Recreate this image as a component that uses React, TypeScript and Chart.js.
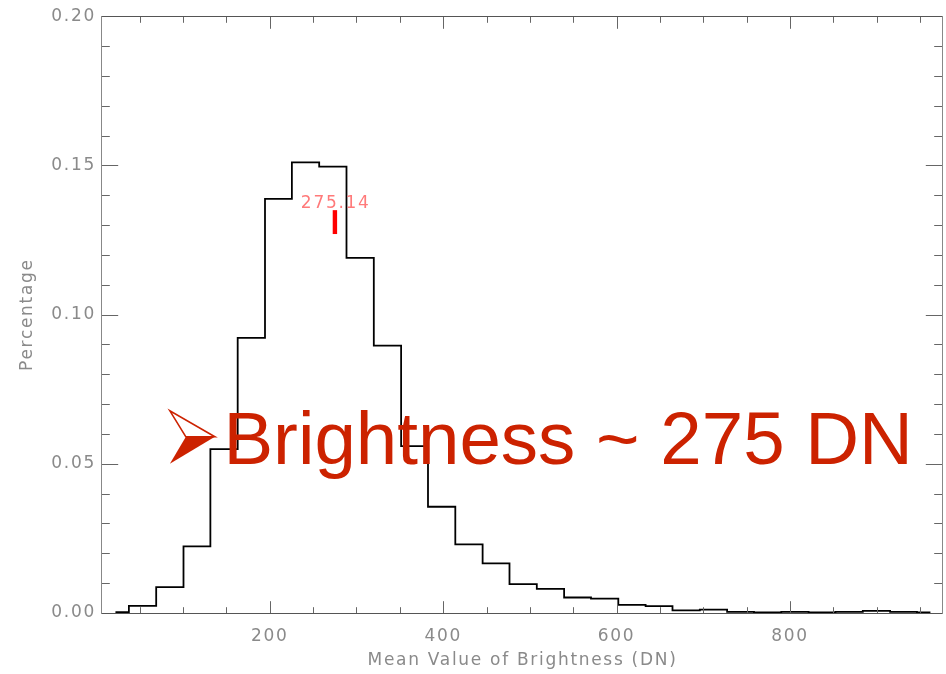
import React, { useEffect, useRef } from 'react';
import { Chart, registerables } from 'chart.js';

Chart.register(...registerables);

// ---- data ----
const binCenters: number[] = [22, 53, 85, 116, 147, 179, 210, 241, 273, 304, 336, 367, 398, 430, 461, 492, 524, 555, 586, 618, 649, 680, 712, 743, 774, 806, 837, 868, 900, 931, 962];
const percentages: number[] = [0.0003, 0.0024, 0.0087, 0.0223, 0.0549, 0.0922, 0.1388, 0.151, 0.1496, 0.119, 0.0896, 0.0559, 0.0356, 0.023, 0.0166, 0.0097, 0.0081, 0.0052, 0.0048, 0.0027, 0.0023, 0.0009, 0.0011, 0.0004, 0.0002, 0.0004, 0.0002, 0.0004, 0.0007, 0.0004, 0.0002];
const xTickValues: number[] = [200, 400, 600, 800];
const xMinorStep = 50;
const yTickStep = 0.05;
const yMinorStep = 0.01;
const xRange: number[] = [6.5, 976.5];
const yRange: number[] = [0, 0.2];
const meanValue = 275.14;
const meanLabel = '275.14';
const meanMarkRange: number[] = [0.127, 0.135];
const headline = 'Brightness ~ 275 DN';
const headlineAnchor: number[] = [146.5, 0.05];
const xTitle = 'Mean Value of Brightness (DN)';
const yTitle = 'Percentage';

const AXIS_GRAY = '#8a8a8a';
const SMALL_FONT = '"DejaVu Sans", sans-serif';

const decorPlugin = {
  id: 'decor',
  beforeDraw(chart: any) {
    chart.ctx.letterSpacing = '1.7px';
  },
  afterDraw(chart: any) {
    const { ctx, chartArea: a, scales } = chart;
    const xs = scales.x;
    const ys = scales.y;
    ctx.save();
    ctx.letterSpacing = '0px';
    ctx.lineWidth = 1;

    const L = Math.round(a.left) - 0.5;
    const R = Math.round(a.right) - 0.5;
    const T = Math.round(a.top) + 0.5;
    const B = Math.round(a.bottom) + 0.5;

    // ticks
    ctx.strokeStyle = '#666666';
    ctx.beginPath();
    for (let v = Math.ceil(xRange[0] / xMinorStep) * xMinorStep; v <= xRange[1]; v += xMinorStep) {
      const major = xTickValues.includes(v);
      const len = major ? 12.3 : 6.3;
      const px = Math.round(xs.getPixelForValue(v)) + 0.5;
      ctx.moveTo(px, B);
      ctx.lineTo(px, B - len);
      ctx.moveTo(px, T);
      ctx.lineTo(px, T + len);
    }
    const nY = Math.round((yRange[1] - yRange[0]) / yMinorStep);
    for (let i = 0; i <= nY; i++) {
      const v = yRange[0] + i * yMinorStep;
      const major = i % Math.round(yTickStep / yMinorStep) === 0;
      const len = major ? 16.7 : 8.3;
      const py = Math.round(ys.getPixelForValue(v)) + 0.5;
      ctx.moveTo(L, py);
      ctx.lineTo(L + len, py);
      ctx.moveTo(R, py);
      ctx.lineTo(R - len, py);
    }
    ctx.stroke();

    // box
    ctx.strokeStyle = '#555555';
    ctx.beginPath();
    ctx.moveTo(L, T);
    ctx.lineTo(R, T);
    ctx.moveTo(L, B);
    ctx.lineTo(R, B);
    ctx.stroke();
    ctx.strokeStyle = '#888888';
    ctx.beginPath();
    ctx.moveTo(L, T);
    ctx.lineTo(L, B);
    ctx.moveTo(R, T);
    ctx.lineTo(R, B);
    ctx.stroke();

    // mean marker
    const mx = xs.getPixelForValue(meanValue);
    const my0 = ys.getPixelForValue(meanMarkRange[0]);
    const my1 = ys.getPixelForValue(meanMarkRange[1]);
    ctx.fillStyle = '#ff0000';
    ctx.fillRect(mx - 2.2, my1, 4.4, my0 - my1);
    ctx.letterSpacing = '1.7px';
    ctx.fillStyle = '#ff7a7a';
    ctx.font = '17px ' + SMALL_FONT;
    ctx.textAlign = 'center';
    ctx.textBaseline = 'alphabetic';
    ctx.fillText(meanLabel, mx + 0.8, my1 - 2.5);

    // headline overlay
    ctx.letterSpacing = '0px';
    const tx = xs.getPixelForValue(headlineAnchor[0]);
    const ty = ys.getPixelForValue(headlineAnchor[1]);
    const red = '#cc2200';
    ctx.fillStyle = red;
    ctx.font = '74.5px "Liberation Sans", Arial, sans-serif';
    ctx.textAlign = 'left';
    ctx.textBaseline = 'alphabetic';
    ctx.fillText(headline, tx, ty);

    // arrowhead bullet
    const ax = tx - 53.5;
    const by = ty;
    const top = [ax, by - 53];
    const tip = [ax + 45, by - 27];
    const bot = [ax, by];
    const notch = [ax + 16, by - 27];
    ctx.beginPath();
    ctx.moveTo(notch[0], notch[1]);
    ctx.lineTo(tip[0], tip[1]);
    ctx.lineTo(bot[0], bot[1]);
    ctx.closePath();
    ctx.fill();
    ctx.strokeStyle = red;
    ctx.lineWidth = 1.6;
    ctx.lineJoin = 'miter';
    ctx.beginPath();
    ctx.moveTo(notch[0], notch[1]);
    ctx.lineTo(top[0], top[1]);
    ctx.lineTo(tip[0], tip[1]);
    ctx.closePath();
    ctx.stroke();

    ctx.restore();
  },
};

export default function App() {
  const canvasRef = useRef<HTMLCanvasElement | null>(null);

  useEffect(() => {
    const canvas = canvasRef.current;
    if (!canvas) return;
    const points = binCenters.map((x, i) => ({ x, y: percentages[i] }));
    const chart = new Chart(canvas, {
      type: 'line',
      data: {
        datasets: [
          {
            data: points,
            stepped: 'middle',
            borderColor: '#000000',
            borderWidth: 1.8,
            pointRadius: 0,
            fill: false,
          },
        ],
      },
      options: {
        responsive: false,
        animation: false,
        devicePixelRatio: 1,
        layout: { padding: { left: 0, right: 3, top: 12, bottom: 0 } },
        plugins: {
          legend: { display: false },
          tooltip: { enabled: false },
        },
        scales: {
          x: {
            type: 'linear',
            min: xRange[0],
            max: xRange[1],
            afterBuildTicks: (scale: any) => {
              scale.ticks = xTickValues.map((v) => ({ value: v }));
            },
            afterFit: (scale: any) => {
              scale.height = 61;
            },
            grid: { display: false, drawTicks: false },
            border: { display: false },
            ticks: {
              autoSkip: false,
              maxRotation: 0,
              color: AXIS_GRAY,
              padding: 13,
              font: { family: SMALL_FONT, size: 17 },
              callback: (v: any) => String(Math.round(Number(v))),
            },
            title: {
              display: true,
              text: xTitle,
              color: AXIS_GRAY,
              font: { family: SMALL_FONT, size: 17 },
              padding: { top: 0, bottom: 3 },
            },
          },
          y: {
            type: 'linear',
            min: yRange[0],
            max: yRange[1],
            afterFit: (scale: any) => {
              scale.width = 102;
            },
            grid: { display: false, drawTicks: false },
            border: { display: false },
            ticks: {
              stepSize: yTickStep,
              color: AXIS_GRAY,
              padding: 6,
              font: { family: SMALL_FONT, size: 17 },
              callback: (v: any) => Number(v).toFixed(2),
            },
            title: {
              display: true,
              text: yTitle,
              color: AXIS_GRAY,
              font: { family: SMALL_FONT, size: 17 },
              padding: { top: 17, bottom: 0 },
            },
          },
        },
      },
      plugins: [decorPlugin],
    } as any);
    return () => chart.destroy();
  }, []);

  return (
    <div style={{ position: 'fixed', left: 0, top: 0, width: 946, height: 674, background: '#ffffff' }}>
      <canvas ref={canvasRef} width={946} height={674} style={{ display: 'block' }} />
    </div>
  );
}
